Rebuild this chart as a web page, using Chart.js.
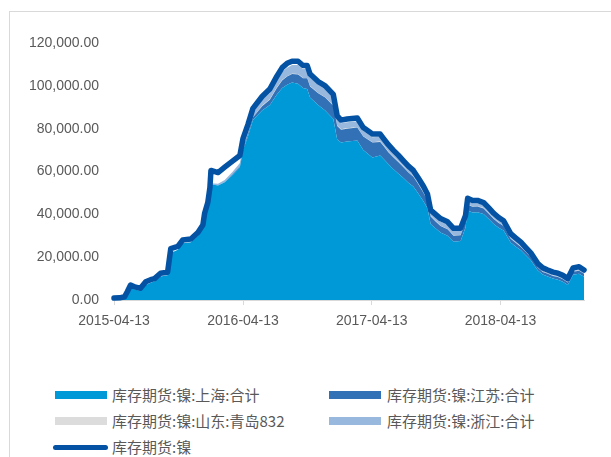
<!DOCTYPE html>
<html>
<head>
<meta charset="utf-8">
<script src="https://cdn.jsdelivr.net/npm/chart.js@4.4.1/dist/chart.umd.min.js"></script>
<style>
  body { margin: 0; width: 611px; height: 457px; overflow: hidden; position: relative; background: #fff; }
  #frame { position: absolute; left: 9px; top: 11px; width: 800px; height: 600px; border-left: 1px solid #d9d9d9; border-top: 1px solid #d9d9d9; }
  #wrap { position: absolute; left: 0; top: 0; width: 611px; height: 340px; }
  .box { position: absolute; height: 8px; }
  .lbl { position: absolute; font: 15px "Noto Sans CJK SC", sans-serif; color: #595959; line-height: 20px; white-space: nowrap; }
</style>
</head>
<body>
<div id="frame"></div>
<div id="wrap"><canvas id="chart" width="611" height="340"></canvas></div>
<div id="legend"></div>
<script>
const dates = [
  '2015-04-13','2015-04-29','2015-05-13','2015-05-21','2015-05-30','2015-06-13','2015-06-27','2015-07-12','2015-07-26','2015-08-06',
  '2015-08-23','2015-09-12','2015-09-21','2015-10-11','2015-10-25','2015-11-17','2015-12-07','2015-12-21','2015-12-26','2016-01-04',
  '2016-01-10','2016-01-13','2016-02-02','2016-02-21','2016-03-15','2016-04-04','2016-04-13','2016-04-27','2016-05-11','2016-06-06',
  '2016-06-28','2016-07-18','2016-08-02','2016-08-16','2016-08-30','2016-09-16','2016-09-30','2016-10-12','2016-10-20','2016-11-12',
  '2016-12-02','2016-12-25','2017-01-05','2017-01-16','2017-02-02','2017-03-03','2017-03-20','2017-04-15','2017-05-07','2017-05-16',
  '2017-05-30','2017-06-13','2017-06-28','2017-07-12','2017-07-26','2017-08-09','2017-08-23','2017-09-07','2017-09-18','2017-09-27',
  '2017-10-11','2017-10-25','2017-11-14','2017-12-01','2017-12-21','2018-01-04','2018-01-10','2018-01-24','2018-02-07','2018-02-24',
  '2018-03-11','2018-03-25','2018-04-08','2018-04-22','2018-05-12','2018-05-26','2018-06-10','2018-06-24','2018-07-08','2018-07-28',
  '2018-08-11','2018-08-25','2018-09-09','2018-09-23','2018-10-07','2018-10-21','2018-11-05','2018-11-22','2018-12-06'
];

// 库存期货:镍 (total)
const total = [
  900,1000,1500,4000,7000,6000,5500,8500,9500,10000,
  12500,13000,24000,25000,28000,28500,31500,35000,40500,45500,
  52500,60500,59500,62000,65000,67500,75500,82000,89500,95000,
  98500,104500,108500,110500,111500,111500,109500,109500,105500,102000,
  100000,96000,86000,84000,84500,85000,80500,77500,77500,75500,
  72500,70000,67500,65000,62500,60500,57000,53000,49500,42000,
  40000,38000,36500,33500,33500,39500,47500,46500,46500,45500,
  43000,40500,38500,37000,31000,29000,27000,24500,22000,17000,
  15000,14000,13000,12500,11500,10000,15000,15500,14000
];

// 上海
const shanghai = [
  500,600,1000,3000,5500,4800,4300,7000,8000,8700,
  11000,11500,22000,23500,26500,27000,30000,33500,39000,44000,
  50500,54000,53500,55000,58500,62000,70000,76500,84000,88500,
  91000,96000,99000,100500,101500,101000,99000,98500,94500,91000,
  88500,84500,75000,73500,74000,74500,70000,66500,67500,66000,
  63500,61200,59000,57000,54700,53000,49700,46000,42800,35500,
  33500,31500,30000,27200,27500,33800,41800,40800,41000,40200,
  37800,35500,33700,32500,26800,25000,23200,20900,18600,13800,
  11900,11000,10000,9500,8500,7000,11800,12300,10800
];

// 江苏
const jiangsu = [
  0,0,0,0,0,0,0,0,0,0,
  0,0,0,0,0,0,0,0,0,0,
  0,0,0,0,300,500,700,1000,1200,2000,
  2500,3000,3500,3800,4000,4300,4500,5000,5200,5500,
  6000,6200,6300,6000,6000,6000,6300,7000,6300,6000,
  5500,5500,5300,5000,4800,4500,4300,4000,3700,3500,
  3200,3000,3000,2800,2700,2700,2700,2700,2600,2500,
  2500,2300,2200,2000,1800,1700,1600,1500,1400,1300,
  1200,1200,1200,1200,1200,1200,1400,1400,1400
];

// 山东:青岛832
const shandong = [
  0,0,0,0,0,0,0,0,0,0,
  0,0,0,0,0,0,0,0,0,0,
  0,0,0,0,0,0,0,0,0,200,
  200,200,200,200,200,200,200,200,200,200,
  200,200,200,200,200,200,200,200,200,200,
  200,200,200,200,200,200,200,200,200,200,
  200,200,200,200,200,200,200,200,200,200,
  200,200,200,200,200,200,200,200,200,200,
  100,100,100,100,100,100,100,100,100
];

// 浙江
const zhejiang = [
  0,0,0,0,0,0,0,0,0,0,
  0,0,0,0,0,0,0,0,0,0,
  0,500,800,1000,1200,1500,1800,2000,2300,2800,
  3000,3500,4000,4000,4000,4200,4200,4300,4000,3800,
  3800,3500,3000,2800,2800,2800,2500,2300,2200,2000,
  2000,1800,1700,1500,1500,1500,1500,1500,1500,1500,
  1800,2000,2000,2000,1800,1500,1500,1500,1400,1300,
  1200,1200,1100,1000,900,800,700,600,500,400,
  400,300,300,300,300,300,300,300,300
];

const xTickLabels = ['2015-04-13', '2016-04-13', '2017-04-13', '2018-04-13'];

const seriesNames = [
  '库存期货:镍:上海:合计',
  '库存期货:镍:江苏:合计',
  '库存期货:镍:山东:青岛832',
  '库存期货:镍:浙江:合计',
  '库存期货:镍'
];
const colors = ['#0099d8', '#3271b6', '#dcdcdc', '#98b9dd', '#0352a3'];

// days since first tick date
const t0 = Date.UTC(2015, 3, 13);
const toDay = s => {
  const p = s.split('-').map(Number);
  return Math.round((Date.UTC(p[0], p[1] - 1, p[2]) - t0) / 86400000);
};
const xs = dates.map(toDay);
const tickDays = xTickLabels.map(toDay);
const pts = arr => arr.map((v, i) => ({ x: xs[i], y: v }));

const area = (i, arr, fill) => ({
  label: seriesNames[i],
  data: pts(arr),
  stack: 'areas',
  backgroundColor: colors[i],
  borderWidth: 0,
  pointRadius: 0,
  fill: fill,
  tension: 0
});

const ctx = document.getElementById('chart').getContext('2d');
const chart = new Chart(ctx, {
  type: 'line',
  data: {
    datasets: [
      {
        label: seriesNames[4],
        data: pts(total),
        stack: 'total',
        borderColor: colors[4],
        borderWidth: 5.5,
        borderJoinStyle: 'round',
        borderCapStyle: 'round',
        pointRadius: 0,
        fill: false,
        tension: 0,
        clip: 6
      },
      area(0, shanghai, 'origin'),
      area(1, jiangsu, '-1'),
      area(2, shandong, '-1'),
      area(3, zhejiang, '-1')
    ]
  },
  options: {
    responsive: false,
    animation: false,
    devicePixelRatio: 1,
    layout: { padding: { top: 43, right: 27, left: 0, bottom: 0 } },
    plugins: { legend: { display: false }, tooltip: { enabled: false } },
    scales: {
      x: {
        type: 'linear',
        min: 0,
        max: xs[xs.length - 1],
        afterBuildTicks: s => { s.ticks = tickDays.map(v => ({ value: v })); },
        afterFit: s => { s.height = 40; },
        ticks: {
          autoSkip: false,
          maxRotation: 0,
          padding: 8,
          color: '#595959',
          font: { family: 'Liberation Sans', size: 14 },
          callback: v => xTickLabels[tickDays.indexOf(v)]
        },
        grid: { drawOnChartArea: false, drawTicks: true, tickLength: 5, color: '#d9d9d9' },
        border: { display: true, color: '#d9d9d9', width: 1 }
      },
      y: {
        stacked: true,
        min: 0,
        max: 120000,
        afterFit: s => { s.width = 114; },
        ticks: {
          stepSize: 20000,
          padding: 15,
          color: '#595959',
          font: { family: 'Liberation Sans', size: 14 },
          callback: v => v.toLocaleString('en-US', { minimumFractionDigits: 2, maximumFractionDigits: 2 })
        },
        grid: { display: false, drawTicks: false },
        border: { display: false }
      }
    }
  }
});

// legend below the plot, two columns like the original
const legend = document.getElementById('legend');
const items = [
  { i: 0, col: 0, row: 0 },
  { i: 1, col: 1, row: 0 },
  { i: 2, col: 0, row: 1 },
  { i: 3, col: 1, row: 1 },
  { i: 4, col: 0, row: 2 }
];
const rowY = [395, 421, 447];
const boxX = [55, 329];
const textX = [112, 387];
const legendBg = ['#0099d8', '#3271b6', '#dcdcdc', '#98b9dd'];
items.forEach(it => {
  const b = document.createElement('div');
  b.className = 'box';
  if (it.i === 4) {
    b.style.left = '53px';
    b.style.width = '55px';
    b.style.height = '5px';
    b.style.top = (rowY[it.row] - 2.5) + 'px';
    b.style.borderRadius = '3px';
    b.style.background = colors[4];
  } else {
    b.style.left = boxX[it.col] + 'px';
    b.style.width = '52px';
    b.style.top = (rowY[it.row] - 4) + 'px';
    b.style.background = legendBg[it.i];
  }
  legend.appendChild(b);
  const t = document.createElement('div');
  t.className = 'lbl';
  t.style.left = textX[it.col] + 'px';
  t.style.top = (rowY[it.row] - 10) + 'px';
  t.textContent = seriesNames[it.i];
  legend.appendChild(t);
});
</script>
</body>
</html>
